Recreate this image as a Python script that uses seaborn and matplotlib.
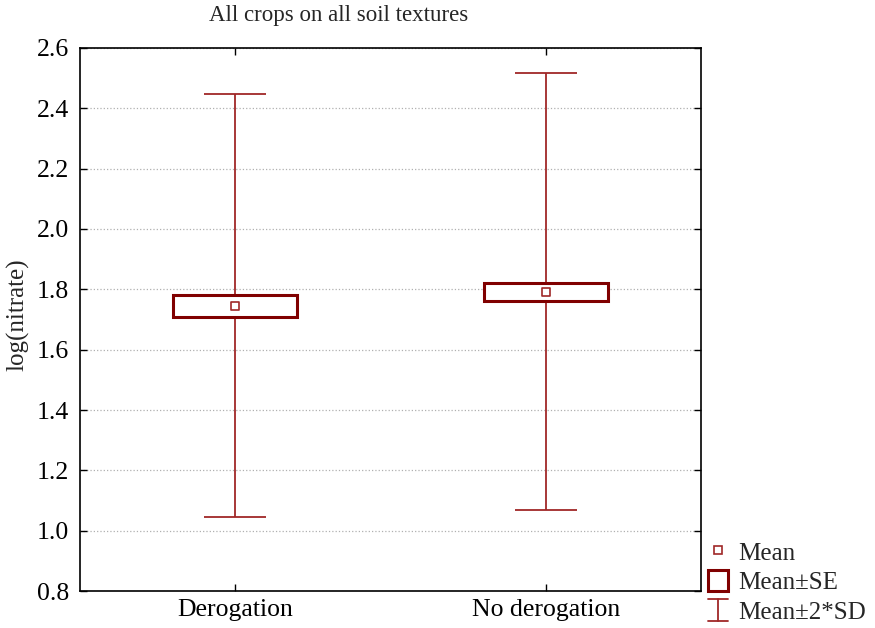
import numpy as np
import pandas as pd
import matplotlib
matplotlib.use('Agg')
import matplotlib.pyplot as plt
import seaborn as sns
from matplotlib.patches import Patch
from matplotlib.lines import Line2D
from matplotlib.legend_handler import HandlerBase

# summary values
groups = ['Derogation', 'No derogation']
means = [1.745, 1.792]
se = [0.036, 0.030]
sd2 = [0.701, 0.725]

df = pd.DataFrame({'group': groups, 'mean': means, 'se': se, 'sd2': sd2})

sns.set_style('ticks')
plt.rcParams['font.family'] = ['Liberation Serif', 'DejaVu Serif']

box_col = '#800000'
line_col = '#a02828'
fs = 18.5
fs_leg = 18


class WhiskerHandle:
    pass


class HandlerWhisker(HandlerBase):
    # vertical line with caps, like the whiskers
    def create_artists(self, legend, orig_handle, xdescent, ydescent,
                       width, height, fontsize, trans):
        cx = width / 2 - xdescent
        y0 = -ydescent
        y1 = -ydescent + height
        hw = width * 0.5
        arts = [
            Line2D([cx, cx], [y0, y1], color=line_col, lw=1.3),
            Line2D([cx - hw, cx + hw], [y0, y0], color=line_col, lw=1.3),
            Line2D([cx - hw, cx + hw], [y1, y1], color=line_col, lw=1.3),
        ]
        for a in arts:
            a.set_transform(trans)
        return arts


fig = plt.figure(figsize=(8.75, 6.28), dpi=100)
ax = fig.add_axes([0.0914, 0.0589, 0.7097, 0.8647])

x = np.arange(len(df))

# Mean +- 2*SD whiskers
ax.errorbar(x, df['mean'], yerr=df['sd2'], fmt='none', ecolor=line_col,
            elinewidth=1.3, capsize=22.3, capthick=1.3, zorder=2)

# Mean +- SE boxes
ax.bar(x, 2 * df['se'], bottom=df['mean'] - df['se'], width=0.4,
       color='white', edgecolor=box_col, linewidth=2.2, zorder=3)

# Means
sns.scatterplot(data=df, x=x, y='mean', marker='s', s=40, facecolor='white',
                edgecolor=line_col, linewidth=1.2, zorder=4, ax=ax, legend=False)

ax.set_xlim(-0.5, 1.5)
ax.set_ylim(0.8, 2.6)
yt = np.arange(0.8, 2.61, 0.2)
ax.set_yticks(yt)
ax.set_yticklabels([f'{v:.1f}' for v in yt])
ax.set_xticks(x)
ax.set_xticklabels(groups)
ax.set_xlabel('')
ax.set_ylabel('')
ax.tick_params(axis='both', direction='in', top=True, right=True,
               labelsize=fs, length=5, width=1, colors='black')
ax.tick_params(axis='y', pad=8)
ax.tick_params(axis='x', pad=6)
ax.grid(axis='y', color='#b0b0b0', linestyle=':', linewidth=0.9, zorder=0)
ax.set_axisbelow(True)
for sp in ax.spines.values():
    sp.set_color('black')
    sp.set_linewidth(1.2)

fig.text(18 / 875, 1 - 315 / 628, 'log(nitrate)', rotation=90,
         ha='center', va='center', fontsize=18)
fig.text(339 / 875, 1 - 15 / 628, 'All crops on all soil textures',
         ha='center', va='center', fontsize=16.5)

# legend
handles = [
    Line2D([], [], marker='s', linestyle='none', markersize=6,
           markerfacecolor='white', markeredgecolor=line_col, markeredgewidth=1.2),
    Patch(facecolor='white', edgecolor=box_col, linewidth=2.2),
    WhiskerHandle(),
]
fig.legend(handles, ['Mean', 'Mean\u00b1SE', 'Mean\u00b12*SD'],
           handler_map={WhiskerHandle: HandlerWhisker()},
           loc='lower left', bbox_to_anchor=(698 / 875, -0.009),
           frameon=False, fontsize=fs_leg, handlelength=0.8, handleheight=0.95,
           handletextpad=0.4, labelspacing=0.2, borderaxespad=0.0)

fig.savefig('out.png', dpi=100)
